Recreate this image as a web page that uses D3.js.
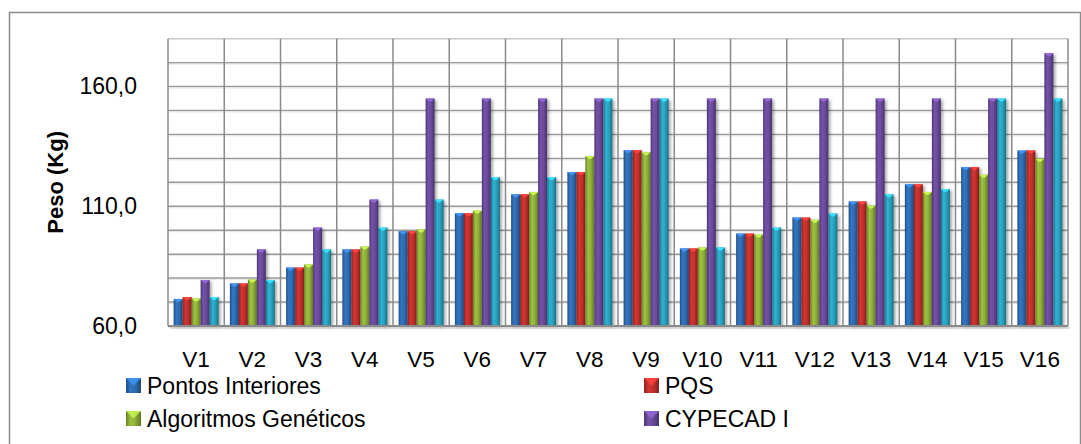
<!DOCTYPE html>
<html>
<head>
<meta charset="utf-8">
<script src="https://cdn.jsdelivr.net/npm/d3@7"></script>
<style>
  html, body { margin: 0; padding: 0; background: #fff; }
  svg { display: block; }
  text { font-family: "Liberation Sans", Arial, sans-serif; fill: #000; }
</style>
</head>
<body>
<svg id="chart" width="1081" height="444"></svg>
<script>
// Weights (kg) per case V1..V16, one array per method
const categories = ["V1","V2","V3","V4","V5","V6","V7","V8","V9","V10","V11","V12","V13","V14","V15","V16"];
const pontosInteriores = [71.3, 77.8, 84.4, 92.0, 99.6, 107.1, 115.0, 124.3, 133.5, 92.4, 98.6, 105.3, 112.0, 119.2, 126.4, 133.3];
const pqs              = [72.1, 77.8, 84.4, 92.0, 99.6, 107.1, 115.0, 124.3, 133.5, 92.4, 98.6, 105.3, 112.0, 119.2, 126.4, 133.3];
const algoritmosGen    = [71.5, 79.4, 85.7, 93.2, 100.3, 108.2, 116.0, 131.0, 132.6, 92.8, 98.2, 104.4, 110.3, 116.0, 123.2, 129.9];
const cypecadI         = [79.2, 92.0, 101.1, 112.8, 155.0, 155.0, 155.0, 155.0, 155.0, 155.0, 155.0, 155.0, 155.0, 155.0, 155.0, 173.9];
const cypecadII        = [72.1, 79.2, 92.0, 101.1, 112.8, 122.2, 122.2, 155.0, 155.0, 92.8, 101.1, 107.0, 115.0, 117.2, 155.0, 155.0];

const seriesNames = ["Pontos Interiores", "PQS", "Algoritmos Genéticos", "CYPECAD I", "CYPECAD II"];
const seriesValues = [pontosInteriores, pqs, algoritmosGen, cypecadI, cypecadII];
const legendNames = ["Pontos Interiores", "PQS", "Algoritmos Genéticos", "CYPECAD I"];
const yTickValues = [60, 110, 160];
const yDomain = [60, 180];

const colors = ["#2f6cb3", "#c2302d", "#90b13a", "#6b4b9c", "#2aa3c0"];
const FONT = '"Liberation Sans", Arial, sans-serif';

const svg = d3.select("#chart");
const plot = { left: 168, right: 1068, top: 38.7, bottom: 326 };

const y = d3.scaleLinear().domain(yDomain).range([plot.bottom, plot.top]);
const x0 = d3.scaleBand().domain(categories).range([plot.left, plot.right])
  .paddingInner(0.2).paddingOuter(0.1);
const x1 = d3.scaleBand().domain(d3.range(seriesNames.length)).range([0, x0.bandwidth()]);

const defs = svg.append("defs");

// Cylinder-like shading for each series
colors.forEach((c, i) => {
  const base = d3.color(c);
  const g = defs.append("linearGradient").attr("id", "bar" + i)
    .attr("x1", "0%").attr("x2", "100%").attr("y1", "0%").attr("y2", "0%");
  g.append("stop").attr("offset", "0%").attr("stop-color", base.darker(0.9));
  g.append("stop").attr("offset", "30%").attr("stop-color", base.brighter(0.25));
  g.append("stop").attr("offset", "60%").attr("stop-color", base);
  g.append("stop").attr("offset", "100%").attr("stop-color", base.darker(1.1));
});

const shadow = defs.append("filter").attr("id", "shadow")
  .attr("x", "-50%").attr("y", "-10%").attr("width", "200%").attr("height", "130%");
shadow.append("feDropShadow").attr("dx", 2).attr("dy", 1.5)
  .attr("stdDeviation", 1.5).attr("flood-color", "#000").attr("flood-opacity", 0.35);

// Outer chart frame
svg.append("rect")
  .attr("x", 9.5).attr("y", 12.5).attr("width", 1071).attr("height", 440)
  .attr("fill", "#fff").attr("stroke", "#8c8c8c").attr("stroke-width", 1.5);

// Horizontal gridlines every 10 kg
const gridValues = d3.range(yDomain[0], yDomain[1] + 1, 10);
const grid = svg.append("g");
grid.selectAll("line.hg").data(gridValues).join("line")
  .attr("class", "hg")
  .attr("x1", plot.left).attr("x2", plot.right)
  .attr("y1", d => y(d)).attr("y2", d => y(d))
  .attr("stroke", d => d === yDomain[1] ? "#c8c8c8" : "#9a9a9a")
  .attr("stroke-width", 1.5);
grid.selectAll("line.hl").data(gridValues.slice(0, -1)).join("line")
  .attr("class", "hl")
  .attr("x1", plot.left).attr("x2", plot.right)
  .attr("y1", d => y(d) + 1.5).attr("y2", d => y(d) + 1.5)
  .attr("stroke", "#e6e6e6").attr("stroke-width", 1);

// Vertical gridlines at category boundaries
const bounds = categories.map(c => x0(c) - x0.step() * x0.paddingOuter()).concat([plot.right]);
grid.selectAll("line.vg").data(bounds).join("line")
  .attr("class", "vg")
  .attr("x1", d => d).attr("x2", d => d)
  .attr("y1", plot.top).attr("y2", plot.bottom)
  .attr("stroke", "#8a8a8a").attr("stroke-width", 1.5);

// Bars
const groups = svg.append("g").selectAll("g").data(categories).join("g")
  .attr("transform", d => `translate(${x0(d)},0)`);

groups.each(function(cat, ci) {
  const g = d3.select(this);
  seriesValues.forEach((vals, si) => {
    const v = vals[ci];
    const bx = x1(si), bw = x1.bandwidth();
    const top = y(v);
    g.append("rect")
      .attr("x", bx).attr("y", top)
      .attr("width", bw).attr("height", y(yDomain[0]) - top)
      .attr("fill", `url(#bar${si})`)
      .attr("filter", "url(#shadow)");
    // bevelled cap
    const light = d3.color(colors[si]).brighter(0.9);
    g.append("path")
      .attr("d", `M${bx},${top} L${bx + bw},${top} L${bx + bw * 0.62},${top + 3} L${bx + bw * 0.38},${top + 3} Z`)
      .attr("fill", light);
  });
});

// Base line of the plot
svg.append("line")
  .attr("x1", plot.left).attr("x2", plot.right)
  .attr("y1", plot.bottom).attr("y2", plot.bottom)
  .attr("stroke", "#8a8a8a").attr("stroke-width", 2);
svg.append("line")
  .attr("x1", plot.left + 2).attr("x2", plot.right + 2)
  .attr("y1", plot.bottom + 2).attr("y2", plot.bottom + 2)
  .attr("stroke", "#d0d0d0").attr("stroke-width", 1.5);

// Y axis
const fmt = d => d3.format(".1f")(d).replace(".", ",");
const yAxis = svg.append("g")
  .attr("transform", `translate(${plot.left},0)`)
  .call(d3.axisLeft(y).tickValues(yTickValues).tickSize(0).tickPadding(31).tickFormat(fmt));
yAxis.select(".domain").remove();
yAxis.selectAll("text")
  .style("font-family", FONT)
  .style("font-size", "23px").attr("fill", "#000");

// X axis
const xAxis = svg.append("g")
  .attr("transform", `translate(0,${plot.bottom})`)
  .call(d3.axisBottom(x0).tickSize(0));
xAxis.select(".domain").remove();
xAxis.selectAll("text")
  .style("font-family", FONT)
  .style("font-size", "22.5px").attr("fill", "#000")
  .attr("y", 41).attr("dy", 0);

// Y axis title
svg.append("text")
  .attr("transform", `translate(63,${(plot.top + plot.bottom) / 2}) rotate(-90)`)
  .attr("text-anchor", "middle")
  .style("font-family", FONT)
  .style("font-size", "22px").style("font-weight", "bold")
  .text("Peso (Kg)");

// Legend
const legendPos = [
  { x: 126, y: 378 }, { x: 644, y: 378 },
  { x: 126, y: 411 }, { x: 644, y: 411 }
];
const legend = svg.append("g").selectAll("g").data(legendNames).join("g")
  .attr("transform", (d, i) => `translate(${legendPos[i].x},${legendPos[i].y})`);
legend.append("rect")
  .attr("width", 15).attr("height", 15)
  .attr("fill", (d, i) => `url(#bar${i})`);
legend.append("path")
  .attr("d", "M0,0 L15,0 L7.5,7.5 Z")
  .attr("fill", (d, i) => d3.color(colors[i]).brighter(0.9))
  .attr("opacity", 0.85);
legend.append("text")
  .attr("x", 21).attr("y", 15.5)
  .style("font-family", FONT)
  .style("font-size", "23px")
  .text(d => d);
</script>
</body>
</html>
